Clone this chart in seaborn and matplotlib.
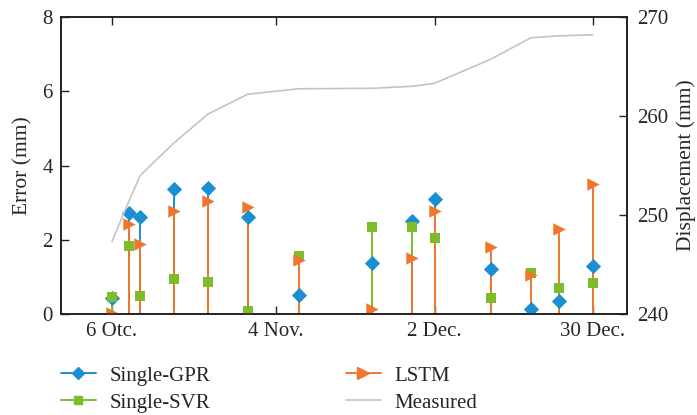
import matplotlib
matplotlib.use("Agg")
import matplotlib.pyplot as plt
import seaborn as sns
import pandas as pd
import numpy as np
from matplotlib.lines import Line2D
from matplotlib.legend_handler import HandlerLine2D

# days counted from 6 Oct.
days = [0, 3, 5, 11, 17, 24, 33, 46, 53, 57, 67, 74, 79, 85]
gpr = [0.42, 2.73, 2.61, 3.36, 3.39, 2.60, 0.51, 1.37, 2.51, 3.10, 1.20, 0.13, 0.35, 1.28]
svr = [0.47, 1.83, 0.49, 0.93, 0.87, 0.09, 1.56, 2.35, 2.33, 2.04, 0.44, 1.10, 0.70, 0.83]
lstm = [0.03, 2.43, 1.89, 2.78, 3.04, 2.88, 1.46, 0.13, 1.52, 2.78, 1.81, 1.04, 2.30, 3.51]
measured = [247.3, 251.4, 254.0, 257.3, 260.2, 262.2, 262.75, 262.8, 263.0, 263.3, 265.75, 267.9, 268.1, 268.2]

tick_days = [0, 29, 57, 85]
tick_labels = ["6 Otc.", "4 Nov.", "2 Dec.", "30 Dec."]

c_gpr = "#1b8fd2"
c_svr = "#7dbd2c"
c_lstm = "#f0762e"
c_meas = "#c4c4c4"

df = pd.DataFrame({"day": days, "GPR": gpr, "SVR": svr, "LSTM": lstm, "Measured": measured})

sns.set_style("white")
plt.rcParams["font.family"] = ["Liberation Serif", "DejaVu Serif"]
plt.rcParams["font.size"] = 15

fig = plt.figure(figsize=(6.97, 4.15), dpi=100)
ax = fig.add_axes([0.0875, 0.2434, 0.812, 0.7156])

# stems
for col, c in [("GPR", c_gpr), ("SVR", c_svr), ("LSTM", c_lstm)]:
    ax.vlines(df["day"], 0, df[col], color=c, lw=1.4, zorder=2)

sns.scatterplot(data=df, x="day", y="GPR", marker="D", s=60, color=c_gpr,
                edgecolor=c_gpr, linewidth=0, ax=ax, zorder=3)
sns.scatterplot(data=df, x="day", y="SVR", marker="s", s=45, color=c_svr,
                edgecolor=c_svr, linewidth=0, ax=ax, zorder=3)
sns.scatterplot(data=df, x="day", y="LSTM", marker=">", s=80, color=c_lstm,
                edgecolor=c_lstm, linewidth=0, ax=ax, zorder=3)

ax.set_xlim(-9, 91)
ax.set_ylim(0, 8)
ax.set_yticks([0, 2, 4, 6, 8])
ax.set_xticks(tick_days)
ax.set_xticklabels(tick_labels)
ax.set_xlabel("")
ax.set_ylabel("Error (mm)", fontsize=15.5, labelpad=7)
ax.tick_params(direction="in", length=5.5, width=1, top=True, bottom=True, left=True, right=False,
               labelsize=15, pad=6, color="#222222")

ax2 = ax.twinx()
sns.lineplot(data=df, x="day", y="Measured", color=c_meas, lw=1.2, ax=ax2)
ax2.set_ylim(240, 270)
ax2.set_yticks([240, 250, 260, 270])
ax2.set_ylabel("Displacement (mm)", fontsize=15.5, labelpad=6)
ax2.set_xlim(-9, 91)
ax2.tick_params(direction="in", length=5.5, width=1, right=True, labelsize=15, pad=7, color="#222222")

for a in (ax, ax2):
    for sp in a.spines.values():
        sp.set_color("#222222")
        sp.set_linewidth(1.2)


class HandlerEndMarker(HandlerLine2D):
    def get_xdata(self, legend, xdescent, ydescent, width, height, fontsize):
        xdata = np.array([-xdescent, -xdescent + width])
        return xdata, np.array([-xdescent + width])


handles = [
    Line2D([], [], color=c_gpr, marker="D", markersize=6, lw=1.4),
    Line2D([], [], color=c_svr, marker="s", markersize=5.5, lw=1.4),
    Line2D([], [], color=c_lstm, marker=">", markersize=8, lw=1.4),
    Line2D([], [], color=c_meas, lw=1.2),
]
labels = ["Single-GPR", "Single-SVR", "LSTM", "Measured"]
fig.legend(handles, labels, ncol=2, loc="upper left", bbox_to_anchor=(0.06, 0.163),
           frameon=False, fontsize=15, handlelength=1.68, handletextpad=0.67,
           columnspacing=6.5, labelspacing=0.36,
           handler_map={h: HandlerEndMarker() for h in handles})

fig.savefig("out.png", dpi=100)
